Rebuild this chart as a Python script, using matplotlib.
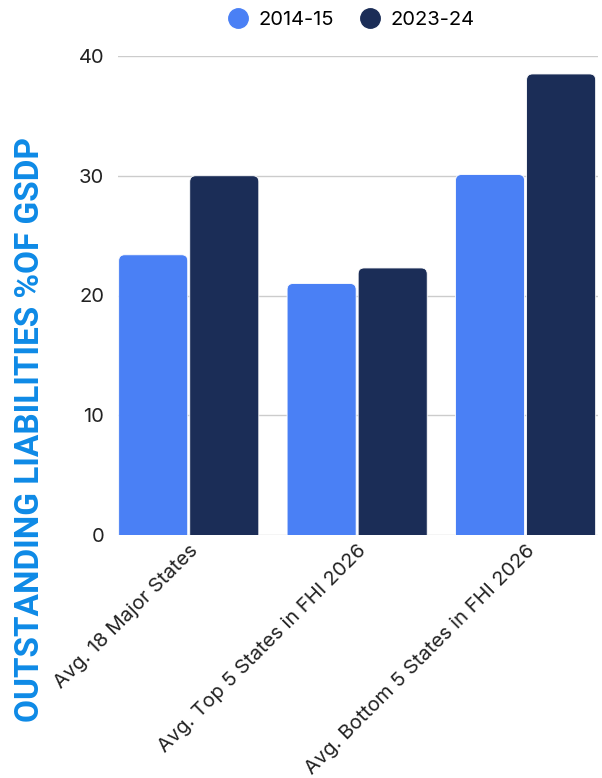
import matplotlib
matplotlib.use("Agg")
import matplotlib.pyplot as plt
from matplotlib.patches import FancyBboxPatch
from matplotlib.lines import Line2D
import numpy as np
from matplotlib import font_manager

categories = ["Avg. 18 Major States", "Avg. Top 5 States in FHI 2026", "Avg. Bottom 5 States in FHI 2026"]
series_names = ["2014-15", "2023-24"]
values_2014 = [23.4, 21.0, 30.1]
values_2023 = [30.0, 22.3, 38.5]
yticks = [0, 10, 20, 30, 40]
ylabel = "OUTSTANDING LIABILITIES %OF GSDP"

colors = ["#4A80F5", "#1B2D57"]
label_color = "#0E8AE6"

names = {f.name for f in font_manager.fontManager.ttflist}
base_font = "Inter" if "Inter" in names else "DejaVu Sans"
label_font = "Liberation Sans Narrow" if "Liberation Sans Narrow" in names else "Roboto"

plt.rcParams['font.family'] = [base_font, 'DejaVu Sans']

fig = plt.figure(figsize=(6.02, 7.78), dpi=100)
ax = fig.add_axes([118/602, 1 - 535/778, (598-118)/602, (535-56)/778])

x = np.arange(len(categories))
w = 0.41
gap = 0.012
ax.set_xlim(-0.42, 2.43)
ax.set_ylim(0, 40)

fig.canvas.draw()
bbox = ax.get_window_extent()
px_per_x = bbox.width / (2.43 + 0.42)
px_per_y = bbox.height / 40
r_px = 6
r_x = r_px / px_per_x
aspect = px_per_x / px_per_y

for vals, off, c in [(values_2014, -(w/2 + gap/2), colors[0]), (values_2023, (w/2 + gap/2), colors[1])]:
    bars = ax.bar(x + off, vals, width=w, color=c, alpha=0)
    for b in bars:
        p = FancyBboxPatch((b.get_x(), -2), b.get_width(), b.get_height() + 2,
                           boxstyle=f"round,pad=0,rounding_size={r_x}",
                           mutation_aspect=aspect, facecolor=c, edgecolor="white",
                           linewidth=0.6, zorder=3)
        ax.add_patch(p)

ax.set_yticks(yticks)
ax.set_yticklabels([str(t) for t in yticks], fontsize=14.5, color="#222222")
ax.grid(axis='y', color="#cccccc", linewidth=1, zorder=0)
ax.set_axisbelow(True)
for s in ax.spines.values():
    s.set_visible(False)
ax.tick_params(axis='both', length=0)
ax.tick_params(axis='y', pad=10)
ax.set_xticks(x)
ax.set_xticklabels(categories, rotation=45, ha='right', rotation_mode='anchor', fontsize=14.5, color="#222222")
ax.tick_params(axis='x', pad=5)

fig.text(30/602, 1 - 430/778, ylabel, rotation=90, ha='center', va='center',
         fontsize=24, fontweight='bold', color=label_color, family=[label_font, 'DejaVu Sans'])

handles = [Line2D([0], [0], marker='o', linestyle='', markersize=14, markerfacecolor=c, markeredgecolor=c) for c in colors]
fig.legend(handles, series_names, loc='center', bbox_to_anchor=(0.578, 1 - 20/778), ncol=2, frameon=False,
           fontsize=14.5, handletextpad=0.2, columnspacing=1.0, handlelength=1.6)

fig.savefig("out.png", dpi=100)
